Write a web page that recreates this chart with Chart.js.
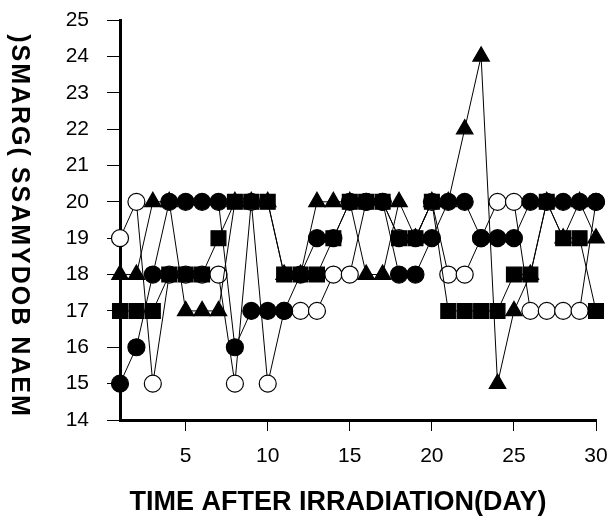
<!DOCTYPE html>
<html>
<head>
<meta charset="utf-8">
<script src="https://cdn.jsdelivr.net/npm/chart.js@4"></script>
<style>
  html, body { margin: 0; padding: 0; background: #fff; }
  canvas { display: block; }
</style>
</head>
<body>
<canvas id="chart" width="609" height="521"></canvas>
<script>
// days after irradiation
const days = [];
for (let d = 1; d <= 30; d++) days.push(d);

// mean body mass (g) per group
const openCircle = [19, 20, 15, 18, 18, 18, 18, 15, 20, 15, 17, 17, 17, 18, 18, 20, 20, 19, 19, 20, 18, 18, 19, 20, 20, 17, 17, 17, 17, 20];
const filledCircle = [15, 16, 18, 20, 20, 20, 20, 16, 17, 17, 17, 18, 19, 19, 20, 20, 20, 18, 18, 19, 20, 20, 19, 19, 19, 20, 20, 20, 20, 20];
const filledSquare = [17, 17, 17, 18, 18, 18, 19, 20, 20, 20, 18, 18, 18, 19, 20, 20, 20, 19, 19, 20, 17, 17, 17, 17, 18, 18, 20, 19, 19, 17];
const filledTriangle = [18, 18, 20, 20, 17, 17, 17, 20, 20, 20, 18, 18, 20, 20, 20, 18, 18, 20, 19, 20, 20, 22, 24, 15, 17, 18, 20, 19, 20, 19];

const xTicks = [5, 10, 15, 20, 25, 30];
const yTicks = [14, 15, 16, 17, 18, 19, 20, 21, 22, 23, 24, 25];

const xTitle = "TIME AFTER IRRADIATION(DAY)";
const yTitle = "MEAN BODYMASS (GRAMS)";

const FONT = '"Liberation Sans", Arial, sans-serif';

function series(values, style, radius, fill) {
  return {
    data: days.map((d, i) => ({ x: d, y: values[i] })),
    borderColor: "#000",
    borderWidth: 1,
    pointStyle: style,
    pointRadius: radius,
    pointBackgroundColor: fill,
    pointBorderColor: "#000",
    pointBorderWidth: 1.2,
    pointHoverRadius: radius,
    tension: 0,
    clip: false,
  };
}

// titles are drawn by hand; in the original the y title runs bottom to top
// with every letter turned clockwise, so it is set one character at a time
const titles = {
  id: "titles",
  afterDraw(chart) {
    const ctx = chart.ctx;
    ctx.save();
    ctx.fillStyle = "#000";
    ctx.font = "bold 27px " + FONT;
    ctx.textAlign = "center";
    ctx.textBaseline = "alphabetic";
    ctx.fillText(xTitle, 338, 510);

    ctx.font = "bold 25px " + FONT;
    ctx.textBaseline = "middle";
    const gap = 2;
    const chars = Array.from(yTitle);
    const widths = chars.map((c) => ctx.measureText(c).width);
    const total = widths.reduce((a, b) => a + b, 0) + gap * (chars.length - 1);
    let y = 225 + total / 2;
    chars.forEach((c, i) => {
      ctx.save();
      ctx.translate(19, y - widths[i] / 2);
      ctx.rotate(Math.PI / 2);
      ctx.fillText(c, 0, 0);
      ctx.restore();
      y -= widths[i] + gap;
    });
    ctx.restore();
  },
};

new Chart(document.getElementById("chart"), {
  type: "line",
  data: {
    datasets: [
      series(filledSquare, "rect", 10.5, "#000"),
      series(filledCircle, "circle", 8.5, "#000"),
      series(filledTriangle, "triangle", 9.5, "#000"),
      series(openCircle, "circle", 8.5, "#fff"),
    ],
  },
  options: {
    responsive: false,
    animation: false,
    devicePixelRatio: 1,
    layout: { padding: { top: 20, right: 0, left: 0, bottom: 0 } },
    plugins: {
      legend: { display: false },
      tooltip: { enabled: false },
    },
    scales: {
      x: {
        type: "linear",
        min: 1,
        max: 30,
        afterBuildTicks: (scale) => {
          scale.ticks = xTicks.map((v) => ({ value: v }));
        },
        afterFit: (scale) => {
          scale.height = 101;
          scale.paddingLeft = 0;
          scale.paddingRight = 13;
        },
        border: { display: true, color: "#000", width: 3 },
        grid: { drawOnChartArea: false, drawTicks: true, tickLength: 11, color: "#000", lineWidth: 1 },
        ticks: { color: "#000", font: { family: FONT, size: 21 }, padding: 13, maxRotation: 0 },
      },
      y: {
        min: 14,
        max: 25,
        afterBuildTicks: (scale) => {
          scale.ticks = yTicks.map((v) => ({ value: v }));
        },
        afterFit: (scale) => {
          scale.width = 120;
          scale.paddingTop = 0;
          scale.paddingBottom = 0;
        },
        border: { display: true, color: "#000", width: 3 },
        grid: { drawOnChartArea: false, drawTicks: true, tickLength: 13, color: "#000", lineWidth: 1 },
        ticks: { color: "#000", font: { family: FONT, size: 21 }, padding: 18 },
      },
    },
  },
  plugins: [titles],
});
</script>
</body>
</html>
